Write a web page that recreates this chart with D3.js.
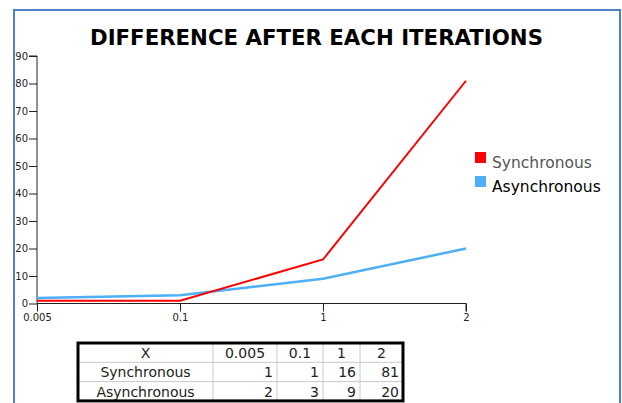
<!DOCTYPE html>
<html>
<head>
<meta charset="utf-8">
<script src="https://cdn.jsdelivr.net/npm/d3@7"></script>
<style>
  body { margin: 0; background: #fff; }
  svg { display: block; font-family: "DejaVu Sans", Verdana, sans-serif; }
</style>
</head>
<body>
<svg id="chartSvg" width="622" height="403"></svg>
<script>
      // chart data
      var xLabels = ['0.005', '0.1', '1', '2'];
      var seriesNames = ['Synchronous', 'Asynchronous'];
      var syncValues = [1, 1, 16, 81];
      var asyncValues = [2, 3, 9, 20];
      var yTicks = [0, 10, 20, 30, 40, 50, 60, 70, 80, 90];
      var titleText = 'DIFFERENCE AFTER EACH ITERATIONS';

      var colors = { Synchronous: '#ff0000', Asynchronous: '#4daff5' };

      var svg = d3.select('#chartSvg');
      var plot = { left: 37, right: 466, top: 56, bottom: 303.5 };

      // outer frame
      svg.append('rect')
         .attr('x', 14).attr('y', 10)
         .attr('width', 606).attr('height', 420)
         .attr('fill', 'none')
         .attr('stroke', '#4f81c4')
         .attr('stroke-width', 2);

      // title
      svg.append('text')
         .attr('x', 316.5).attr('y', 45)
         .attr('text-anchor', 'middle')
         .attr('textLength', 453)
         .attr('lengthAdjust', 'spacingAndGlyphs')
         .style('font-size', '22px')
         .style('font-weight', 'bold')
         .style('fill', '#000')
         .text(titleText);

      var xScale = d3.scalePoint()
                     .domain(xLabels)
                     .range([plot.left, plot.right]);
      var yScale = d3.scaleLinear()
                     .domain([0, 90])
                     .range([plot.bottom, plot.top]);

      // axes
      var yAxis = d3.axisLeft(yScale).tickValues(yTicks).tickSize(8).tickPadding(1);
      var gy = svg.append('g')
         .attr('transform', 'translate(' + plot.left + ',0)')
         .call(yAxis);
      var xAxis = d3.axisBottom(xScale).tickSize(8).tickPadding(2);
      var gx = svg.append('g')
         .attr('transform', 'translate(0,' + plot.bottom + ')')
         .call(xAxis);
      [gx, gy].forEach(function(g) {
        g.selectAll('path, line').attr('stroke', '#222');
        g.selectAll('text').style('font-size', '10px').style('fill', '#222')
         .style('font-family', '"DejaVu Sans", Verdana, sans-serif');
        g.select('.domain').attr('stroke', '#222');
      });
      gy.select('.domain').attr('d', 'M-8,' + plot.top + 'H0V' + plot.bottom);
      gx.select('.domain').attr('d', 'M' + plot.left + ',0H' + plot.right + 'V8');

      // lines
      var line = d3.line()
                   .x(function(d, i) { return xScale(xLabels[i]); })
                   .y(function(d) { return yScale(d); });

      svg.append('path')
         .attr('d', line(asyncValues))
         .attr('fill', 'none')
         .attr('stroke', colors.Asynchronous)
         .attr('stroke-width', 2.5);
      svg.append('path')
         .attr('d', line(syncValues))
         .attr('fill', 'none')
         .attr('stroke', colors.Synchronous)
         .attr('stroke-width', 2);

      // legend
      var legend = svg.append('g').attr('transform', 'translate(475,152)');
      seriesNames.forEach(function(name, i) {
        legend.append('rect')
              .attr('x', 0).attr('y', i * 24)
              .attr('width', 11).attr('height', 11)
              .attr('fill', colors[name]);
        legend.append('text')
              .attr('x', 17).attr('y', i * 24 + 16)
              .style('font-size', '15.5px')
              .style('fill', i == 0 ? '#555' : '#000')
              .text(name);
      });

      // data table
      var colEdges = [78, 213, 277, 323, 360, 403];
      var rowTop = 343, rowH = 19.3;
      var rows = [['X'].concat(xLabels),
                  ['Synchronous'].concat(syncValues),
                  ['Asynchronous'].concat(asyncValues)];
      var tbl = svg.append('g');
      // inner grid
      colEdges.slice(1, -1).forEach(function(x) {
        tbl.append('line')
           .attr('x1', x).attr('x2', x)
           .attr('y1', rowTop).attr('y2', rowTop + rowH * 3)
           .attr('stroke', '#c8c8c8');
      });
      [1, 2].forEach(function(r) {
        tbl.append('line')
           .attr('x1', colEdges[0]).attr('x2', colEdges[5])
           .attr('y1', rowTop + rowH * r).attr('y2', rowTop + rowH * r)
           .attr('stroke', '#c8c8c8');
      });
      rows.forEach(function(row, r) {
        row.forEach(function(cell, c) {
          var centered = r == 0 || c == 0;
          tbl.append('text')
             .attr('x', centered ? (colEdges[c] + colEdges[c + 1]) / 2 : colEdges[c + 1] - 4)
             .attr('y', rowTop + rowH * r + 15)
             .attr('text-anchor', centered ? 'middle' : 'end')
             .style('font-size', '14px')
             .style('fill', '#222')
             .text(cell);
        });
      });
      tbl.append('rect')
         .attr('x', colEdges[0]).attr('y', rowTop)
         .attr('width', colEdges[5] - colEdges[0]).attr('height', rowH * 3)
         .attr('fill', 'none')
         .attr('stroke', '#000')
         .attr('stroke-width', 3);
</script>
</body>
</html>
